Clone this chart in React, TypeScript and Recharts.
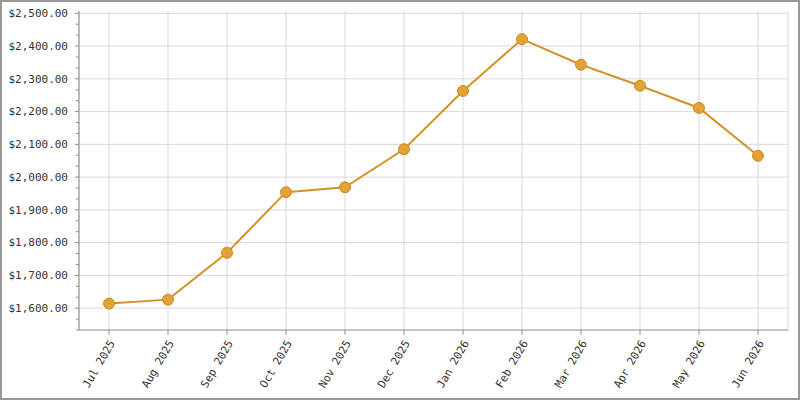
import React from "react";
import { LineChart, Line, XAxis, YAxis, CartesianGrid } from "recharts";

const months = [
  "Jul 2025", "Aug 2025", "Sep 2025", "Oct 2025", "Nov 2025", "Dec 2025",
  "Jan 2026", "Feb 2026", "Mar 2026", "Apr 2026", "May 2026", "Jun 2026",
];
const balances = [1614, 1626, 1769, 1954, 1969, 2085, 2263, 2421, 2343, 2279, 2211, 2065];

const majorTicks = [1600, 1700, 1800, 1900, 2000, 2100, 2200, 2300, 2400, 2500];
const yMin = 1533.33;
const yMax = 2507;

// two minor ticks between each major, plus the ones below the first label
const allTicks: number[] = [];
for (let v = yMin; v <= 2500.5; v += 100 / 3) allTicks.push(Math.round(v * 100) / 100);

const data = months.map((month, i) => ({ month, balance: balances[i] }));

const font = "'DejaVu Sans Mono', monospace";
const axisColor = "#8c8c8c";
const gridColor = "#d9d9d9";

const money = (v: number) =>
  "$" + v.toLocaleString("en-US", { minimumFractionDigits: 2, maximumFractionDigits: 2 });

const YTick = (props: any) => {
  const { x, y, payload } = props;
  const isMajor = majorTicks.some((m) => Math.abs(m - payload.value) < 0.5);
  return (
    <g>
      <line x1={x} x2={x - (isMajor ? 4 : 3)} y1={y} y2={y} stroke={axisColor} />
      {isMajor && (
        <text x={x - 11} y={y} dy="0.35em" textAnchor="end" fill="#333" fontSize={11} fontFamily={font}>
          {money(Math.round(payload.value))}
        </text>
      )}
    </g>
  );
};

const XTick = (props: any) => {
  const { x, y, payload } = props;
  return (
    <text
      x={x + 3}
      y={y + 4}
      dy="0.35em"
      textAnchor="end"
      fill="#333"
      fontSize={11}
      fontFamily={font}
      transform={`rotate(-60 ${x + 3} ${y + 4})`}
    >
      {payload.value}
    </text>
  );
};

export default function App() {
  return (
    <div
      style={{
        width: 800,
        height: 400,
        border: "2px solid #999",
        boxSizing: "border-box",
        background: "#fff",
      }}
    >
      <style>{"body{margin:0}"}</style>
      <LineChart width={796} height={396} data={data} margin={{ top: 9, right: 10, left: 0, bottom: 0 }}>
        <CartesianGrid stroke={gridColor} horizontalValues={majorTicks} />
        <XAxis
          dataKey="month"
          height={68}
          padding={{ left: 30, right: 30 }}
          stroke={axisColor}
          tickSize={5}
          tick={<XTick />}
          interval={0}
        />
        <XAxis xAxisId="top" dataKey="month" orientation="top" height={0} tick={false} tickLine={false} stroke={gridColor} />
        <YAxis
          domain={[yMin, yMax]}
          ticks={allTicks}
          width={77}
          stroke={axisColor}
          tickSize={0}
          tickMargin={0}
          tickLine={false}
          tick={<YTick />}
          interval={0}
          allowDataOverflow
        />
        <YAxis yAxisId="right" orientation="right" width={0} tick={false} tickLine={false} stroke={gridColor} />
        <Line
          dataKey="balance"
          type="linear"
          stroke="#d4922a"
          strokeWidth={2}
          dot={{ r: 5.5, fill: "#e2a236", stroke: "#c98d20", strokeWidth: 1 }}
          activeDot={false}
          isAnimationActive={false}
        />
      </LineChart>
    </div>
  );
}
